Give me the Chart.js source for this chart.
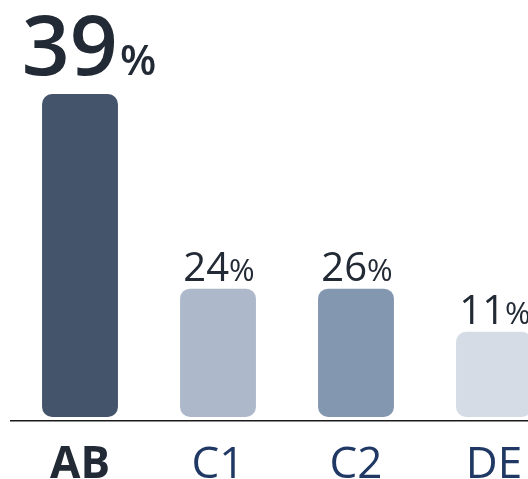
<!DOCTYPE html>
<html lang="en">

<head>
    <meta charset="UTF-8">
    <title>Share by group</title>
    <style>
        body { margin: 0; background: #fff; }
        #wrap { width: 528px; height: 479px; overflow: hidden; }
    </style>
</head>

<body>
    <div id="wrap">
        <canvas id="myChart" width="563" height="479"></canvas>
    </div>

    <script src="https://cdn.jsdelivr.net/npm/chart.js"></script>

    <script>
        // categories and values
        var groups = ["AB", "C1", "C2", "DE"];
        var shares = [39, 24, 26, 11];           // printed percentages
        var barHeights = [39, 15.5, 15.5, 10.3]; // drawn bar heights (same units as AB)
        var barColors = ["#44546a", "#adb9ca", "#8497b0", "#d6dce5"];

        FONT = "'Open Sans', 'Noto Sans', sans-serif";
        TEXT_DARK = "#222a35";
        TEXT_BLUE = "#203864";

        // draws "NN%" above each bar, number big and % small
        var shareLabels = {
            id: "shareLabels",
            afterDatasetsDraw(chart) {
                var ctx = chart.ctx;
                var bars = chart.getDatasetMeta(0).data;
                ctx.save();
                ctx.fillStyle = TEXT_DARK;
                ctx.textBaseline = "alphabetic";
                ctx.textAlign = "left";
                bars.forEach((bar, i) => {
                    var big = i === 0;
                    var numFont = big ? "600 84px " + FONT : "40px " + FONT;
                    var pctFont = big ? "600 42px " + FONT : "31px " + FONT;
                    var num = String(shares[i]);
                    ctx.font = numFont;
                    var wNum = ctx.measureText(num).width;
                    ctx.font = pctFont;
                    var wPct = ctx.measureText("%").width;
                    var x0 = bar.x - (wNum + wPct) / 2 + (big ? 8 : 1);
                    var y0 = bar.y - (big ? 19 : 8);
                    ctx.font = numFont;
                    ctx.fillText(num, x0, y0);
                    ctx.font = pctFont;
                    ctx.fillText("%", x0 + wNum + (big ? 2 : 0), y0);
                });
                ctx.restore();
            }
        };

        var chart = new Chart("myChart", {
            type: "bar",
            data: {
                labels: groups,
                datasets: [{
                    data: barHeights,
                    backgroundColor: barColors,
                    borderRadius: 10,
                    borderSkipped: false,
                    barPercentage: 0.55,
                    categoryPercentage: 1
                }]
            },
            options: {
                responsive: false,
                animation: false,
                devicePixelRatio: 1,
                layout: { padding: { left: 11, right: 0, top: 0, bottom: 0 } },
                plugins: {
                    legend: { display: false },
                    tooltip: { enabled: false }
                },
                scales: {
                    x: {
                        grid: { display: false },
                        border: { display: true, color: "#1a1a1a", width: 1.5 },
                        ticks: {
                            padding: 10,
                            color: (c) => c.index === 0 ? TEXT_DARK : TEXT_BLUE,
                            font: (c) => ({
                                family: FONT,
                                size: 44,
                                weight: c.index === 0 ? "bold" : "normal"
                            })
                        },
                        afterFit: (scale) => { scale.height = 58; }
                    },
                    y: {
                        display: false,
                        min: -0.48,
                        max: 50.35
                    }
                }
            },
            plugins: [shareLabels]
        });
    </script>
</body>

</html>
